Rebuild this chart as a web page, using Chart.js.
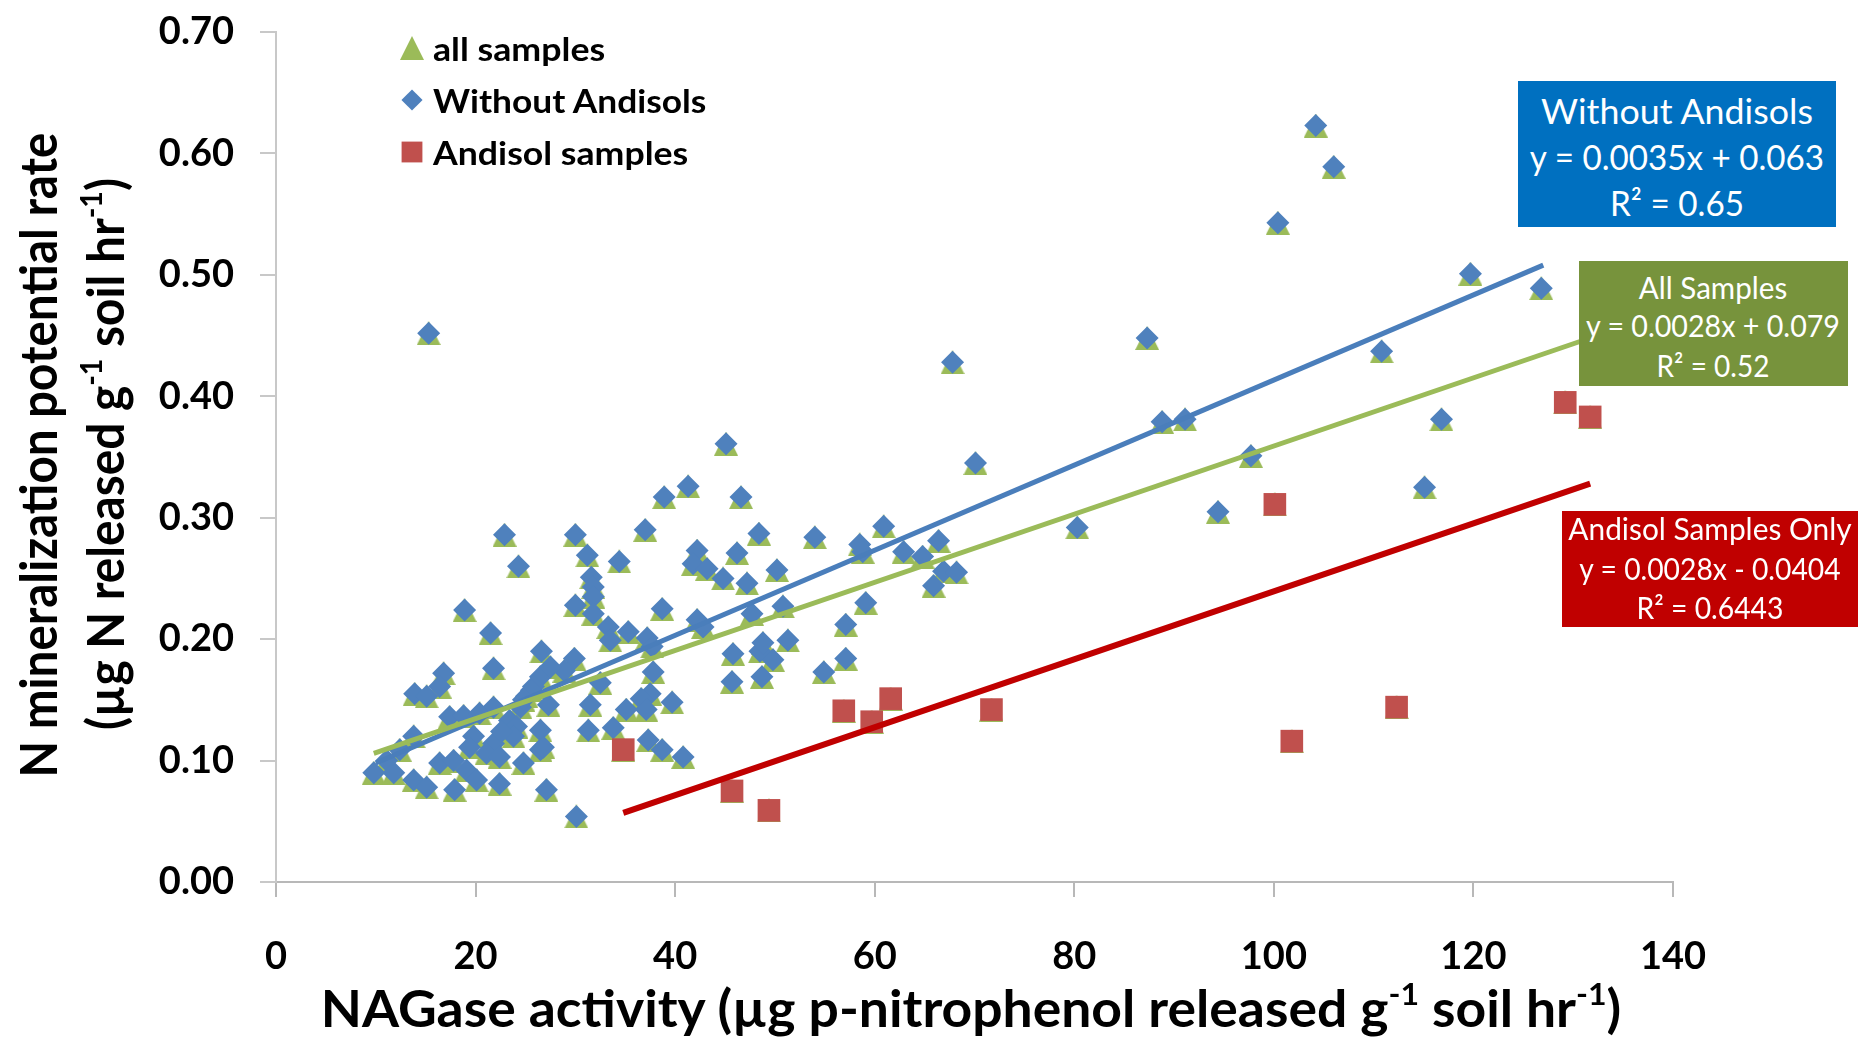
<!DOCTYPE html>
<html>
<head>
<meta charset="utf-8">
<script src="https://cdn.jsdelivr.net/npm/chart.js@4.4.0/dist/chart.umd.min.js"></script>
<style>
html,body{margin:0;padding:0;background:#fff;}
#wrap{position:relative;width:1862px;height:1037px;overflow:hidden;background:#fff;}
#c{position:absolute;left:0;top:0;}
.t{position:absolute;white-space:nowrap;line-height:1;font-family:Lato,"Open Sans",sans-serif;color:#000;}
.box{position:absolute;}
.w{color:#fff;font-weight:normal;}
sup{font-size:0.6em;vertical-align:0.7em;line-height:0;}
</style>
</head>
<body>
<div id="wrap">
<canvas id="c" width="1862" height="1037"></canvas>
</div>
<script>
// ---------------- data ----------------
const withoutX = [
 15.3,104.2,106.0,100.4,119.7,126.8,87.3,67.8,110.8,88.8,91.1,116.8,97.7,70.1,115.1,94.4,80.3,54.0,60.9,58.5,
 58.8,62.9,64.8,66.4,66.9,68.2,65.9,59.1,57.1,57.1,54.9,51.3,50.8,50.2,
 45.1,41.3,38.9,46.6,37.0,48.4,42.2,46.2,41.8,43.2,44.8,47.2,38.7,42.2,42.8,47.7,37.2,37.7,45.8,48.5,
 49.8,48.8,45.7,48.7,37.8,39.7,37.5,36.6,37.1,35.1,37.3,38.7,40.8,
 30.0,31.2,34.4,31.6,31.8,31.8,30.0,31.8,33.3,33.5,35.3,29.9,28.9,32.5,31.5,31.3,33.8,30.1,27.1,
 22.9,24.3,18.9,21.5,26.6,21.8,16.8,16.4,13.9,15.1,26.5,25.8,25.1,24.5,21.8,17.4,18.8,20.4,23.4,24.1,
 26.5,23.8,19.8,19.4,21.8,21.1,22.4,24.8,26.5,13.8,12.4,11.1,9.8,11.8,13.8,15.1,16.4,17.8,19.1,20.1,
 17.9,22.4,27.5,25.6,24.8,26.8,27.3,22.6
];
const withoutY = [
 0.452,0.623,0.589,0.543,0.501,0.489,0.448,0.428,0.437,0.379,0.381,0.381,0.351,0.345,0.325,0.305,0.292,0.284,0.293,0.278,
 0.272,0.272,0.268,0.281,0.256,0.255,0.244,0.230,0.212,0.184,0.173,0.199,0.227,0.257,
 0.361,0.326,0.317,0.317,0.290,0.287,0.273,0.271,0.262,0.258,0.250,0.246,0.225,0.216,0.210,0.221,0.201,0.194,0.188,0.190,
 0.183,0.197,0.165,0.169,0.173,0.148,0.155,0.151,0.142,0.142,0.117,0.109,0.103,
 0.286,0.269,0.264,0.251,0.243,0.235,0.228,0.221,0.210,0.199,0.206,0.184,0.174,0.164,0.146,0.125,0.127,0.054,0.076,
 0.286,0.260,0.224,0.205,0.190,0.176,0.172,0.161,0.155,0.153,0.169,0.161,0.153,0.144,0.144,0.136,0.137,0.139,0.133,0.128,
 0.125,0.120,0.120,0.111,0.114,0.106,0.103,0.098,0.109,0.120,0.109,0.100,0.090,0.090,0.084,0.078,0.098,0.100,0.092,0.084,
 0.076,0.081,0.177,0.158,0.150,0.111,0.146,0.124
];
const andisolX = [34.8,45.7,49.4,56.9,59.7,61.6,71.7,100.1,101.8,112.3,129.2,131.7];
const andisolY = [0.109,0.075,0.059,0.141,0.132,0.151,0.142,0.311,0.116,0.144,0.395,0.383];

// trend line end points
const trendWithoutX = [10.0,127.0];
const trendWithoutY = [0.098,0.508];
const trendAllX = [9.8,131.7];
const trendAllY = [0.106,0.448];
const trendAndisolX = [34.8,131.7];
const trendAndisolY = [0.057,0.328];

// axis ticks
const xTickValues = [0,20,40,60,80,100,120,140];
const xTickLabels = ['0','20','40','60','80','100','120','140'];
const yTickValues = [0,0.1,0.2,0.3,0.4,0.5,0.6,0.7];
const yTickLabels = ['0.00','0.10','0.20','0.30','0.40','0.50','0.60','0.70'];

// legend + text
const seriesNames = ['all samples','Without Andisols','Andisol samples'];

// ---------------- build ----------------
const pts = (xs, ys) => xs.map((x, i) => ({x: x, y: ys[i]}));

function makeTriangle(size, color) {
  const c = document.createElement('canvas');
  c.width = size; c.height = size;
  const g = c.getContext('2d');
  g.fillStyle = color;
  g.beginPath();
  g.moveTo(size / 2, 0);
  g.lineTo(size, size);
  g.lineTo(0, size);
  g.closePath();
  g.fill();
  return c;
}
const triangle = makeTriangle(24, '#9BBB59');

const allData = pts(withoutX, withoutY).concat(pts(andisolX, andisolY));

const tickFont = {family: 'Lato', size: 38, weight: 'bold'};

const legendPlugin = {
  id: 'insideLegend',
  afterDraw(chart) {
    const ctx = chart.ctx;
    const rows = [{ds: 0, x: 412, y: 48}, {ds: 1, x: 412, y: 100}, {ds: 2, x: 412, y: 152}];
    rows.forEach(r => {
      const d = chart.data.datasets[r.ds];
      ctx.save();
      ctx.fillStyle = d.backgroundColor;
      Chart.helpers.drawPoint(ctx, {pointStyle: d.pointStyle, radius: d.pointRadius * 0.92, rotation: 0, borderWidth: 0}, r.x, r.y);
      ctx.restore();
    });
  }
};

new Chart(document.getElementById('c'), {
  type: 'scatter',
  data: {
    datasets: [
      {label: seriesNames[0], data: allData, pointStyle: triangle, pointRadius: 12, backgroundColor: '#9BBB59', borderColor: '#9BBB59', borderWidth: 0, order: 6},
      {label: seriesNames[1], data: pts(withoutX, withoutY), pointStyle: 'rectRot', pointRadius: 11.5, backgroundColor: '#4F81BD', borderColor: '#4F81BD', borderWidth: 0, order: 5},
      {label: seriesNames[2], data: pts(andisolX, andisolY), pointStyle: 'rect', pointRadius: 16, backgroundColor: '#C0504D', borderColor: '#C0504D', borderWidth: 0, order: 4},
      {label: 'trend without', data: pts(trendWithoutX, trendWithoutY), showLine: true, pointRadius: 0, borderColor: '#4A7EBB', borderWidth: 5, order: 2},
      {label: 'trend all', data: pts(trendAllX, trendAllY), showLine: true, pointRadius: 0, borderColor: '#9BBB59', borderWidth: 5, order: 1},
      {label: 'trend andisol', data: pts(trendAndisolX, trendAndisolY), showLine: true, pointRadius: 0, borderColor: '#C00000', borderWidth: 6, order: 3}
    ]
  },
  options: {
    responsive: false,
    animation: false,
    devicePixelRatio: 1,
    events: [],
    layout: {padding: {left: 0, top: 32, right: 189, bottom: 0}},
    plugins: {legend: {display: false}, tooltip: {enabled: false}, title: {display: false}},
    scales: {
      x: {
        type: 'linear', min: 0, max: 140,
        afterBuildTicks: s => { s.ticks = xTickValues.map(v => ({value: v})); },
        afterFit: s => { s.height = 155; s.paddingLeft = 0; s.paddingRight = 0; },
        ticks: {font: tickFont, color: '#000', padding: 37, maxRotation: 0, autoSkip: false,
                callback: (v, i) => xTickLabels[i]},
        grid: {display: true, drawOnChartArea: false, drawTicks: true, tickLength: 15, color: '#B8B8B8', lineWidth: 2},
        border: {display: true, color: '#B8B8B8', width: 2}
      },
      y: {
        type: 'linear', min: 0, max: 0.7,
        afterBuildTicks: s => { s.ticks = yTickValues.map(v => ({value: v})); },
        afterFit: s => { s.width = 276; s.paddingTop = 0; s.paddingBottom = 0; },
        ticks: {font: tickFont, color: '#000', padding: 26, autoSkip: false,
                callback: (v, i) => yTickLabels[i]},
        grid: {display: true, drawOnChartArea: false, drawTicks: true, tickLength: 16, color: '#C8C8C8', lineWidth: 2},
        border: {display: true, color: '#C8C8C8', width: 2}
      }
    }
  },
  plugins: [legendPlugin]
});

// ---------------- HTML text overlays ----------------
const wrap = document.getElementById('wrap');
function addBox(l, t, w, h, color) {
  const d = document.createElement('div');
  d.className = 'box';
  Object.assign(d.style, {left: l + 'px', top: t + 'px', width: w + 'px', height: h + 'px', background: color});
  wrap.appendChild(d);
}
function addText(html, cx, cy, targetW, size, weight, cls, rot, anchorLeft) {
  const d = document.createElement('div');
  d.className = 't' + (cls ? ' ' + cls : '');
  d.innerHTML = html;
  d.style.fontSize = size + 'px';
  d.style.fontWeight = weight;
  d.style.left = cx + 'px';
  d.style.top = cy + 'px';
  wrap.appendChild(d);
  const natural = d.offsetWidth;
  const s = targetW ? targetW / natural : 1;
  if (anchorLeft) {
    d.style.transformOrigin = '0 50%';
    d.style.transform = 'translate(0,-50%) scaleX(' + s + ')';
  } else {
    d.style.transformOrigin = '50% 50%';
    d.style.transform = 'translate(-50%,-50%)' + (rot ? ' rotate(' + rot + 'deg)' : '') + ' scaleX(' + s + ')';
  }
}

// axis titles
addText('NAGase activity (µg p-nitrophenol released g<sup>-1</sup> soil hr<sup>-1</sup>)', 971, 1007, 1300, 51, 'bold');
addText('N mineralization potential rate', 37, 455, 645, 51, 'bold', '', -90);
addText('(µg N released g<sup>-1</sup> soil hr<sup>-1</sup>)', 104, 454, 552, 51, 'bold', '', -90);

// legend labels
addText(seriesNames[0], 433, 48, 172, 33, 'bold', '', 0, true);
addText(seriesNames[1], 433, 100, 273, 33, 'bold', '', 0, true);
addText(seriesNames[2], 433, 152, 255, 33, 'bold', '', 0, true);

// equation boxes
addBox(1518, 81, 318, 146, '#0070C0');
addText('Without Andisols', 1677, 110, 272, 35, 'normal', 'w');
addText('y = 0.0035x + 0.063', 1677, 156, 294, 35, 'normal', 'w');
addText('R² = 0.65', 1677, 202, 134, 35, 'normal', 'w');

addBox(1579, 261, 269, 125, '#77933C');
addText('All Samples', 1713, 287, 148, 30, 'normal', 'w');
addText('y = 0.0028x + 0.079', 1713, 325, 254, 30, 'normal', 'w');
addText('R² = 0.52', 1713, 365, 113, 30, 'normal', 'w');

addBox(1562, 511, 296, 116, '#C00000');
addText('Andisol Samples Only', 1710, 528, 283, 31, 'normal', 'w');
addText('y = 0.0028x - 0.0404', 1710, 568, 261, 31, 'normal', 'w');
addText('R² = 0.6443', 1710, 607, 147, 31, 'normal', 'w');
</script>
</body>
</html>
